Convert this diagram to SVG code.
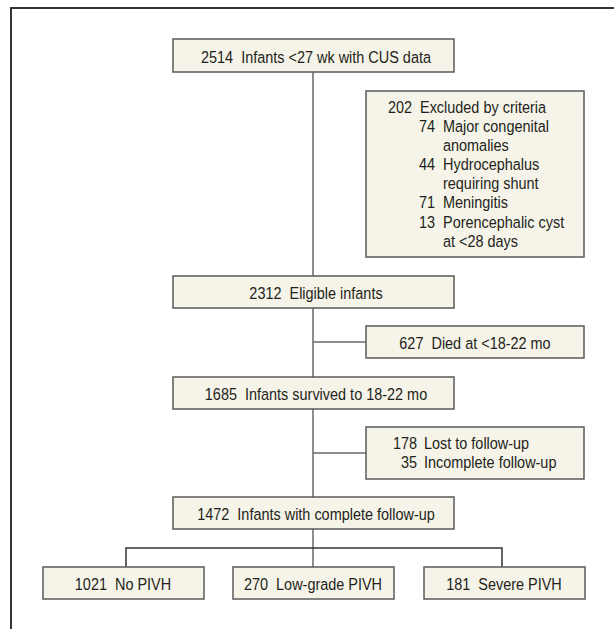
<svg xmlns="http://www.w3.org/2000/svg" width="614" height="629" viewBox="0 0 614 629">
<style>
.bx{fill:#f6f4e8;stroke:#5a5a5a;stroke-width:1.5}
.t{font-family:'Liberation Sans',Arial,sans-serif;font-size:17px;fill:#231f20}
.m{text-anchor:middle}
.e{text-anchor:end}
.ln{stroke:#6a6a6a;stroke-width:1.5;fill:none}
.dk{stroke:#333;stroke-width:1.5;fill:none}
</style>
<rect width="614" height="629" fill="#fff"/>
<g id="frame"><path d="M11,629 V8 H614" stroke="#333" stroke-width="2" fill="none"/></g>
<g id="connectors">
<path class="ln" d="M313,72 V276 M313,308 V377 M313,409 V497 M313,529 V567"/>
<path class="ln" d="M313,342 H366 M313,453 H366"/>
<path class="dk" d="M126,567 V548 H502 V567"/>
</g>
<g id="n1"><rect class="bx" x="173" y="39" width="281" height="33"/><text class="t m" transform="translate(316,63) scale(0.85,1)">2514&#160; Infants &lt;27 wk with CUS data</text></g>
<g id="n2"><rect class="bx" x="366" y="91" width="218" height="166"/>
<text class="t e" transform="translate(412,113) scale(0.85,1)">202</text><text class="t" transform="translate(420,113) scale(0.85,1)">Excluded by criteria</text>
<text class="t e" transform="translate(435,132) scale(0.85,1)">74</text><text class="t" transform="translate(443,132) scale(0.85,1)">Major congenital</text>
<text class="t" transform="translate(443,151) scale(0.85,1)">anomalies</text>
<text class="t e" transform="translate(435,170) scale(0.85,1)">44</text><text class="t" transform="translate(443,170) scale(0.85,1)">Hydrocephalus</text>
<text class="t" transform="translate(443,189) scale(0.85,1)">requiring shunt</text>
<text class="t e" transform="translate(435,208) scale(0.85,1)">71</text><text class="t" transform="translate(443,208) scale(0.85,1)">Meningitis</text>
<text class="t e" transform="translate(435,228) scale(0.85,1)">13</text><text class="t" transform="translate(443,228) scale(0.85,1)">Porencephalic cyst</text>
<text class="t" transform="translate(443,247) scale(0.85,1)">at &lt;28 days</text>
</g>
<g id="n3"><rect class="bx" x="173" y="276" width="281" height="32"/><text class="t m" transform="translate(316,299) scale(0.85,1)">2312&#160; Eligible infants</text></g>
<g id="n4"><rect class="bx" x="366" y="326" width="218" height="32"/><text class="t m" transform="translate(475,349) scale(0.85,1)">627&#160; Died at &lt;18-22 mo</text></g>
<g id="n5"><rect class="bx" x="173" y="377" width="281" height="32"/><text class="t m" transform="translate(316,400) scale(0.85,1)">1685&#160; Infants survived to 18-22 mo</text></g>
<g id="n6"><rect class="bx" x="366" y="427" width="218" height="52"/>
<text class="t e" transform="translate(417,449) scale(0.85,1)">178</text><text class="t" transform="translate(424,449) scale(0.85,1)">Lost to follow-up</text>
<text class="t e" transform="translate(417,468) scale(0.85,1)">35</text><text class="t" transform="translate(424,468) scale(0.85,1)">Incomplete follow-up</text>
</g>
<g id="n7"><rect class="bx" x="173" y="497" width="281" height="32"/><text class="t m" transform="translate(316,520) scale(0.85,1)">1472&#160; Infants with complete follow-up</text></g>
<g id="n8"><rect class="bx" x="43" y="567" width="161" height="32"/><text class="t m" transform="translate(123,590) scale(0.85,1)">1021&#160; No PIVH</text></g>
<g id="n9"><rect class="bx" x="233" y="567" width="161" height="32"/><text class="t m" transform="translate(313,590) scale(0.85,1)">270&#160; Low-grade PIVH</text></g>
<g id="n10"><rect class="bx" x="424" y="567" width="161" height="32"/><text class="t m" transform="translate(504,590) scale(0.85,1)">181&#160; Severe PIVH</text></g>
</svg>
